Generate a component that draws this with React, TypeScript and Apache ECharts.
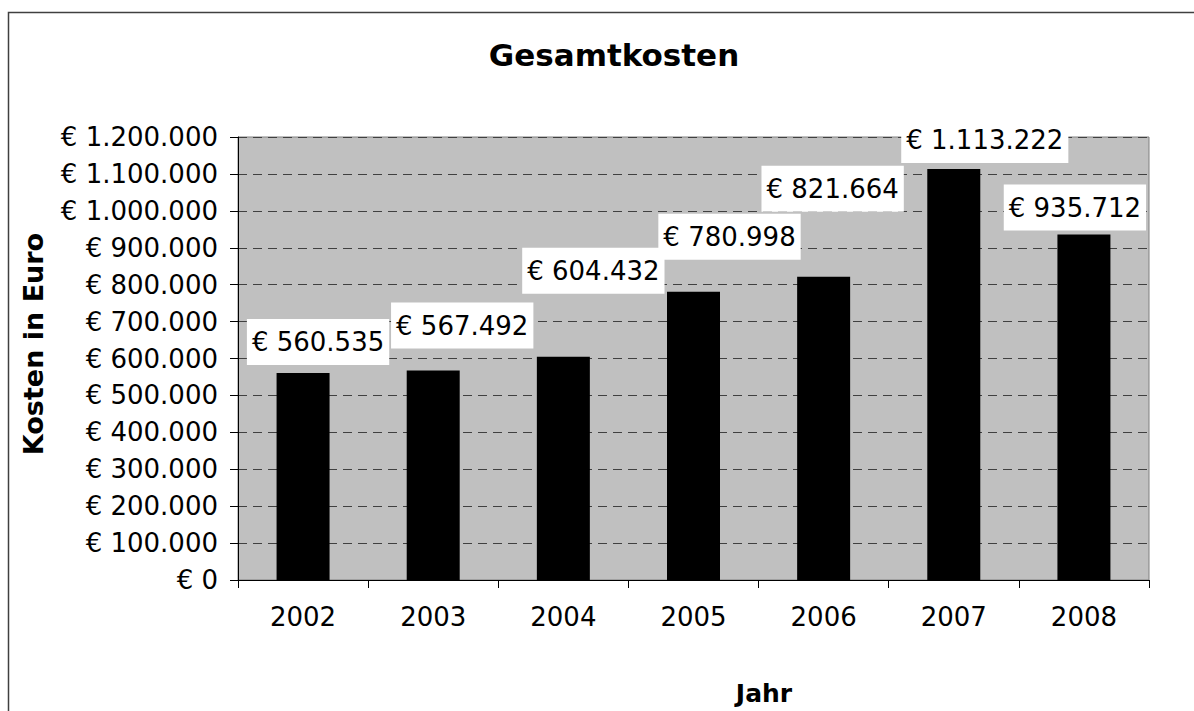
import React, { useEffect, useRef } from "react";
import * as echarts from "echarts";

const categories = ["2002", "2003", "2004", "2005", "2006", "2007", "2008"];
const values = [560535, 567492, 604432, 780998, 821664, 1113222, 935712];
const chartTitle = "Gesamtkosten";
const yAxisTitle = "Kosten in Euro";
const xAxisTitle = "Jahr";
const yMin = 0;
const yMax = 1200000;
const yInterval = 100000;

// manual label placement (as moved in the original spreadsheet chart)
const labelOffsets: [number, number][] = [
  [15, -8],
  [29, -22],
  [30, -63],
  [36, -32],
  [9, -65],
  [31, -6],
  [-9, -4],
];

const FONT = "'DejaVu Sans', Verdana, sans-serif";

function fmt(v: number): string {
  return "€ " + String(Math.round(v)).replace(/\B(?=(\d{3})+(?!\d))/g, ".");
}

export default function App() {
  const ref = useRef<HTMLDivElement>(null);
  useEffect(() => {
    if (!ref.current) return;
    const chart = echarts.init(ref.current, null, { renderer: "svg" });
    chart.setOption({
      animation: false,
      backgroundColor: "#ffffff",
      textStyle: { fontFamily: FONT },
      grid: {
        left: 238,
        top: 137,
        right: 45,
        bottom: 131,
        show: true,
        backgroundColor: "#C0C0C0",
        borderColor: "#808080",
        borderWidth: 1,
      },
      xAxis: {
        type: "category",
        data: categories,
        axisLine: { show: true, lineStyle: { color: "#000", width: 1 } },
        axisTick: { show: true, length: 8, lineStyle: { color: "#000" } },
        axisLabel: { color: "#000", fontSize: 26, fontFamily: FONT, margin: 24 },
        splitLine: { show: false },
      },
      yAxis: {
        type: "value",
        min: yMin,
        max: yMax,
        interval: yInterval,
        axisLine: { show: true, lineStyle: { color: "#000", width: 1 } },
        axisTick: { show: true, length: 8, lineStyle: { color: "#000" } },
        axisLabel: {
          color: "#000",
          fontSize: 26,
          fontFamily: FONT,
          margin: 20,
          formatter: (v: number) => fmt(v),
        },
        splitLine: {
          show: true,
          lineStyle: { color: "#404040", type: [9, 6], width: 1 },
        },
      },
      series: [
        {
          type: "bar",
          data: values.map((v, i) => ({
            value: v,
            label: { offset: labelOffsets[i] },
          })),
          barWidth: 53,
          itemStyle: { color: "#000000" },
          label: {
            show: true,
            position: "top",
            distance: 0,
            formatter: (p: any) => fmt(p.value),
            color: "#000",
            fontSize: 26,
            lineHeight: 26,
            fontFamily: FONT,
            backgroundColor: "#ffffff",
            padding: [10, 5],
          },
        },
      ],
      graphic: [
        {
          type: "rect",
          silent: true,
          shape: { x: 8.5, y: 12.5, width: 1400, height: 900 },
          style: { fill: "none", stroke: "#404040", lineWidth: 1.5 },
        },
        {
          type: "text",
          x: 614,
          y: 55,
          style: {
            text: chartTitle,
            font: `bold 31px ${FONT}`,
            fill: "#000",
            align: "center",
            verticalAlign: "middle",
          },
        },
        {
          type: "text",
          x: 33,
          y: 344,
          rotation: Math.PI / 2,
          style: {
            text: yAxisTitle,
            font: `bold 27px ${FONT}`,
            fill: "#000",
            align: "center",
            verticalAlign: "middle",
          },
        },
        {
          type: "text",
          x: 764,
          y: 693,
          style: {
            text: xAxisTitle,
            font: `bold 25px ${FONT}`,
            fill: "#000",
            align: "center",
            verticalAlign: "middle",
          },
        },
      ],
    });
    return () => chart.dispose();
  }, []);
  return (
    <div
      ref={ref}
      style={{ position: "fixed", left: 0, top: 0, width: 1194, height: 711 }}
    />
  );
}
